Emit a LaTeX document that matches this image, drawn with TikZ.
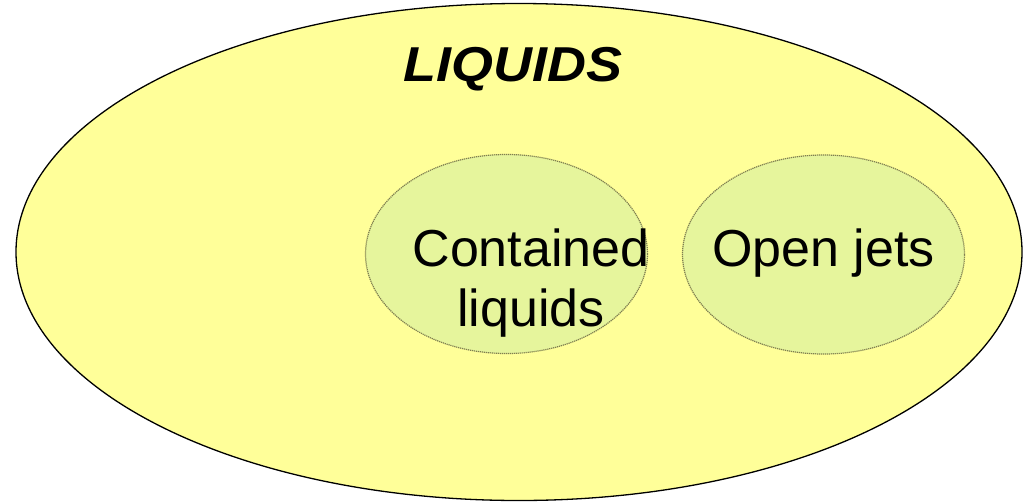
\documentclass[tikz,border=0pt]{standalone}
\usepackage{fontspec}
\setmainfont{Liberation Sans}
\usetikzlibrary{shapes.geometric}
\definecolor{outerfill}{HTML}{FFFF99}
\definecolor{innerfill}{HTML}{E6F59C}
\definecolor{innerline}{HTML}{7F7F50}
\tikzset{
  outerset/.style={ellipse, draw=black, line width=1.3pt, fill=outerfill, inner sep=0pt},
  innerset/.style={ellipse, draw=innerline, line width=1.2pt, dash pattern=on 1.2pt off 0.8pt, fill=innerfill, inner sep=0pt, minimum width=282pt, minimum height=199pt},
  labeltext/.style={anchor=base, inner sep=0pt, font=\fontsize{52}{60}\selectfont, align=center},
}
\begin{document}
\begin{tikzpicture}[x=1pt,y=-1pt]
\useasboundingbox (0,0) rectangle (1023,501);
\node[outerset, minimum width=1006pt, minimum height=497pt] (liq) at (519,252) {};
\node[innerset] (cont) at (506.5,254) {};
\node[innerset] (jets) at (823.5,254.5) {};
\node[anchor=base, inner sep=0pt, font=\fontsize{49}{54}\selectfont\bfseries\itshape] (liqlabel) at (513,81) {\scalebox{1.1}[1]{LIQUIDS}};
\node[labeltext] (contA) at (531,266) {Contained};
\node[labeltext] (contB) at (531,326) {liquids};
\node[labeltext] (jetslabel) at (823.5,266) {Open jets};
\end{tikzpicture}
\end{document}
